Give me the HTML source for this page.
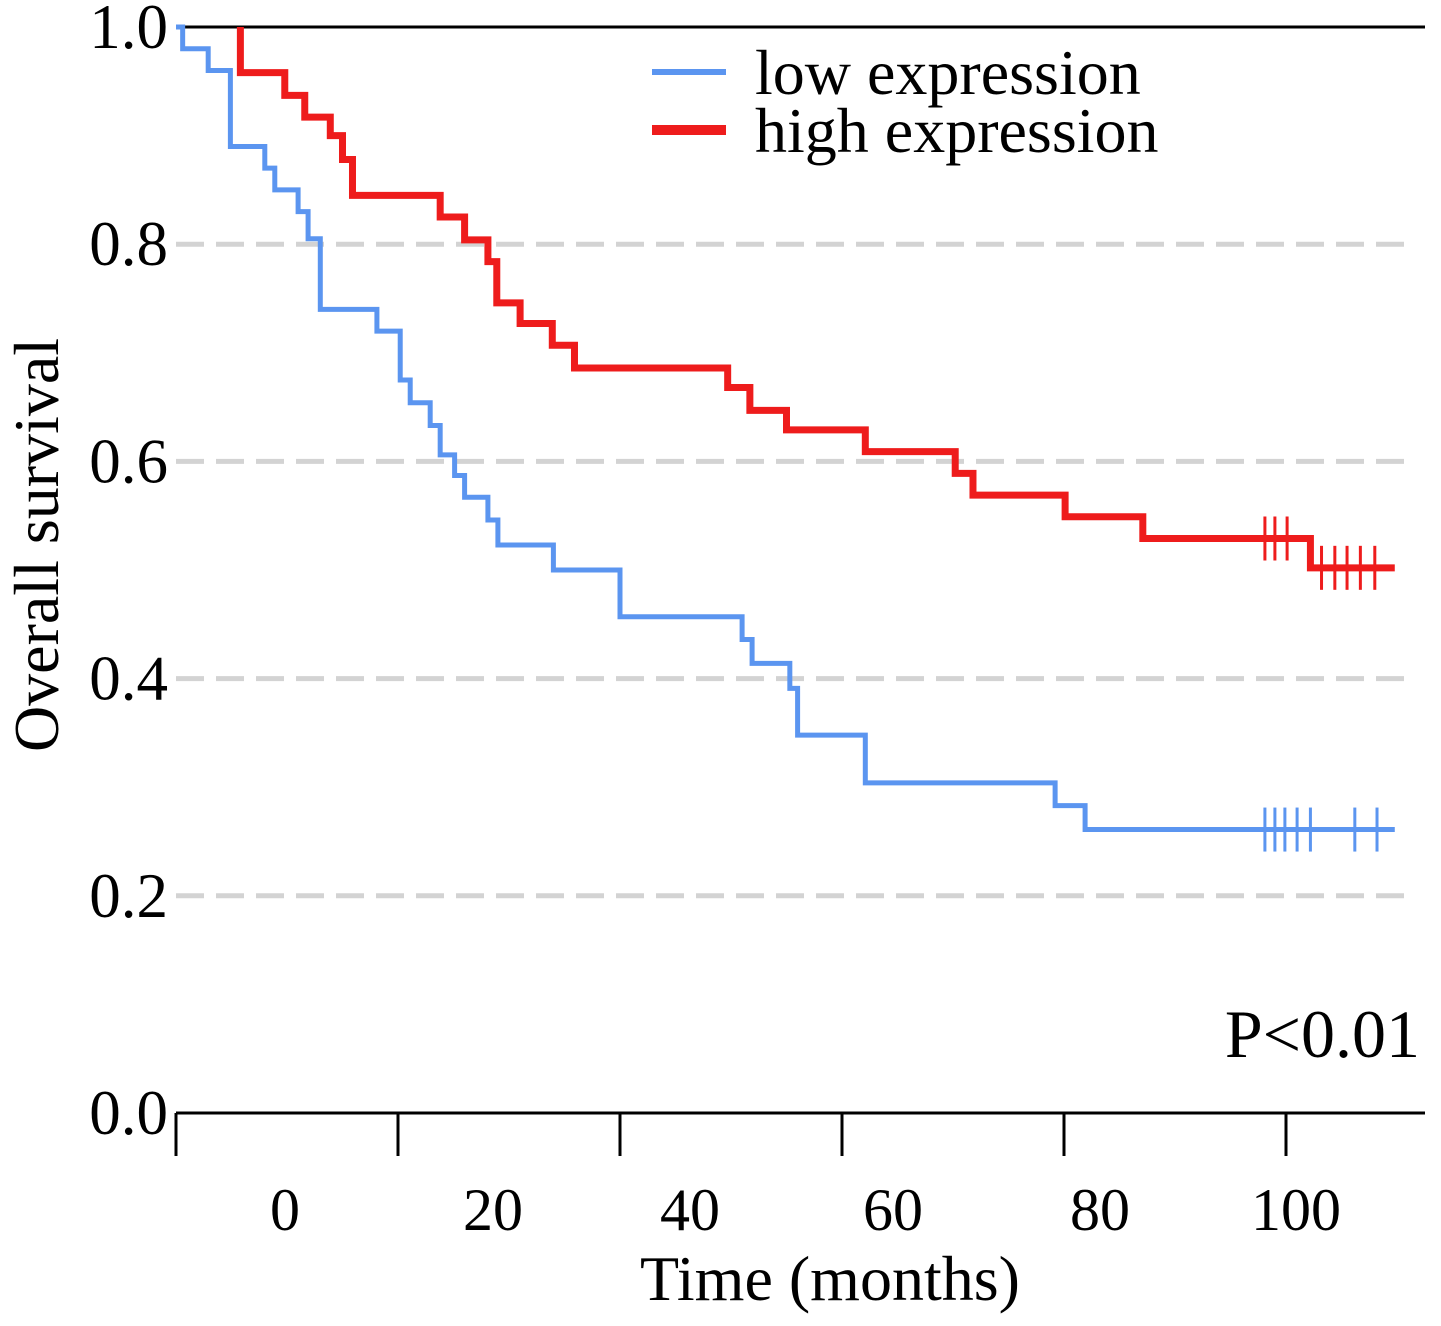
<!DOCTYPE html>
<html><head><meta charset="utf-8"><style>
html,body{margin:0;padding:0;background:#fff;}
svg{display:block;font-family:"Liberation Serif",serif;}
</style></head><body>
<svg id="chart" width="1441" height="1326" viewBox="0 0 1441 1326" xmlns="http://www.w3.org/2000/svg">
<g id="grid"></g>
<line x1="176" y1="27" x2="1425" y2="27" stroke="#000" stroke-width="3"/>
<line x1="176" y1="1113" x2="1425" y2="1113" stroke="#000" stroke-width="3"/>
<g id="xticks"></g>
<g id="ylabels" font-size="63" text-anchor="end"></g>
<g id="series"></g>
<text transform="translate(58,545) rotate(-90)" font-size="64" text-anchor="middle">Overall survival</text>
<text x="830" y="1300" font-size="64" text-anchor="middle">Time (months)</text>
<text x="1420" y="1057" font-size="68" text-anchor="end">P&lt;0.01</text>
<g>
<line x1="652" y1="72" x2="726" y2="72" stroke="#5b95f0" stroke-width="6"/>
<text x="755" y="94" font-size="64">low expression</text>
<line x1="652" y1="130" x2="726" y2="130" stroke="#ee1c1c" stroke-width="10"/>
<text x="755" y="152" font-size="64">high expression</text>
</g>
</svg>
<script>
const lowTimes=[0.6,2.9,4.9,8.0,8.9,11.0,11.9,13.0,18.1,20.2,21.1,22.9,23.8,25.1,26.0,28.1,29.0,34.0,40.0,51.0,51.9,55.3,56.0,62.1,79.2,81.9];
const lowSurv=[0.98,0.96,0.89,0.87,0.85,0.83,0.805,0.74,0.72,0.675,0.654,0.633,0.606,0.587,0.567,0.546,0.523,0.5,0.457,0.436,0.414,0.391,0.348,0.304,0.283,0.261];
const lowCensor=[98.1,99.0,99.9,101.0,102.2,106.2,108.2];
const lowStart=0;
const highTimes=[5.8,9.8,11.6,13.9,15.0,15.9,23.8,26.0,28.1,28.9,31.0,33.9,35.9,49.7,51.7,55.0,62.1,70.2,71.8,80.1,87.1,102.2];
const highSurv=[0.958,0.937,0.917,0.9,0.878,0.845,0.825,0.804,0.784,0.746,0.727,0.707,0.686,0.668,0.647,0.629,0.609,0.589,0.569,0.549,0.529,0.502];
const highCensor=[98.1,99.0,100.1,103.2,104.4,105.5,106.7,108.0];
const highStart=5.8;
const endTime=109.8;
const xTicks=[0,20,40,60,80,100];
const xTickLabels=["0","20","40","60","80","100"];
const yTicks=[0,0.2,0.4,0.6,0.8,1.0];
const yTickLabels=["0.0","0.2","0.4","0.6","0.8","1.0"];
const gridVals=[0.2,0.4,0.6,0.8];

const NS="http://www.w3.org/2000/svg";
const xs=t=>176+t*11.1;
const ys=v=>1113-v*1086;
function mk(tag,attrs,parent){const e=document.createElementNS(NS,tag);for(const k in attrs)e.setAttribute(k,attrs[k]);parent.appendChild(e);return e;}

const grid=document.getElementById('grid');
gridVals.forEach(v=>{
  const l=mk('line',{x1:176,x2:1412,y1:ys(v),y2:ys(v),stroke:'#d3d3d3','stroke-width':5,'stroke-dasharray':'28 12'},grid);
  
  
});
const xt=document.getElementById('xticks');
const labelOffsets=[109,95,70,51,36,10];
xTicks.forEach((t,i)=>{
  const l=mk('line',{x1:xs(t),x2:xs(t),y1:1113,y2:1156,stroke:'#000','stroke-width':3},xt);
  
  
  const tx=mk('text',{x:xs(t)+labelOffsets[i],y:1230,'font-size':60,'text-anchor':'middle'},xt);
  tx.textContent=xTickLabels[i];
  
  
});
const yl=document.getElementById('ylabels');
yTicks.forEach((v,i)=>{
  const tx=mk('text',{x:168,y:ys(v)+21},yl);
  tx.textContent=yTickLabels[i];
  
  
});
function drawCurve(start,times,surv,censor,color,name,w){
  const g=document.getElementById('series');
  let v=1.0;let d='M'+xs(start)+','+ys(v);
  times.forEach((t,i)=>{d+=' H'+xs(t)+' V'+ys(surv[i]);v=surv[i];});
  d+=' H'+xs(endTime);
  const p=mk('path',{d:d,fill:'none',stroke:color,'stroke-width':w},g);
  
  
  censor.forEach(c=>{
    let s=1.0;times.forEach((t,i)=>{if(t<=c)s=surv[i];});
    const m=mk('line',{x1:xs(c),x2:xs(c),y1:ys(s)-22,y2:ys(s)+22,stroke:color,'stroke-width':3},g);
    
    
  });
}
drawCurve(lowStart,lowTimes,lowSurv,lowCensor,'#5b95f0','low-expression',5);
drawCurve(highStart,highTimes,highSurv,highCensor,'#ee1c1c','high-expression',7);
</script>
</body></html>
